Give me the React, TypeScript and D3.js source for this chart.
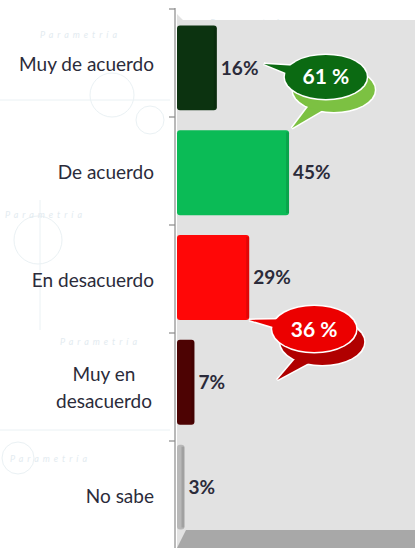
import React from 'react';
import * as d3 from 'd3';

// Survey answers and their shares (%)
const categories = ['Muy de acuerdo', 'De acuerdo', 'En desacuerdo', 'Muy en desacuerdo', 'No sabe'];
const values = [16, 45, 29, 7, 3];
const barColors = ['#0c3310', '#0bbb56', '#ff0707', '#4d0303', '#b8b8b8'];
// label lines for the category axis
const labelLines = [['Muy de acuerdo'], ['De acuerdo'], ['En desacuerdo'], ['Muy en', 'desacuerdo'], ['No sabe']];
// grouped totals shown in the speech bubbles: [first index, last index]
const bubbleGroups = [[0, 1], [2, 3]];
const bubbleColors = [
  { main: '#0b6a12', shade: '#7cc142' },
  { main: '#ec0000', shade: '#b00000' },
];

const W = 415;
const H = 548;
const FONT = 'Lato, "Open Sans", sans-serif';

function Bubble({ cx, cy, rx, ry, tip, tail2, main, shade, label }: any) {
  const tailPath = (t: number[], c: number[], w: number) => {
    const ang = Math.atan2(t[1] - c[1], t[0] - c[0]);
    const px = Math.cos(ang + Math.PI / 2) * w;
    const py = Math.sin(ang + Math.PI / 2) * w;
    return `M${c[0] + px},${c[1] + py}L${t[0]},${t[1]}L${c[0] - px},${c[1] - py}Z`;
  };
  const sx = cx + 8;
  const sy = cy + 13;
  const shadeTail = tailPath(tail2, [sx - 8, sy + 8], 9);
  const mainTail = tailPath(tip, [cx - 14, cy - 2], 8);
  return (
    <g>
      {/* back bubble */}
      <g stroke="#fff" strokeWidth={3}>
        <path d={shadeTail} fill={shade} />
        <ellipse cx={sx} cy={sy} rx={rx} ry={ry} fill={shade} />
      </g>
      <path d={shadeTail} fill={shade} />
      <ellipse cx={sx} cy={sy} rx={rx} ry={ry} fill={shade} />
      {/* front bubble */}
      <g stroke="#fff" strokeWidth={3}>
        <path d={mainTail} fill={main} />
        <ellipse cx={cx} cy={cy} rx={rx} ry={ry} fill={main} />
      </g>
      <path d={mainTail} fill={main} />
      <ellipse cx={cx} cy={cy} rx={rx} ry={ry} fill={main} />
      <text x={cx} y={cy} dy="0.36em" textAnchor="middle" fill="#fff" fontFamily={FONT}
        fontWeight={700} fontSize={21}>{label}</text>
    </g>
  );
}

export default function App() {
  const x = d3.scaleLinear().domain([0, 100]).range([177, 426]);
  // axis wall bands (ticks + category labels) and the bars sit slightly differently (3D look)
  const yAxis = d3.scaleBand<string>().domain(categories).range([9, 549]).padding(0);
  const yBar = d3.scaleBand<string>().domain(categories).range([15, 540]).paddingInner(0.19).paddingOuter(0.1);

  const ticks = [9, ...categories.map(c => (yAxis(c) as number) + yAxis.bandwidth())];

  const watermarks = [
    [210, 26], [5, 218], [60, 345], [200, 410], [10, 462], [40, 38],
  ];

  return (
    <svg width={W} height={H} style={{ position: 'absolute', left: 0, top: 0, background: '#fff' }}>
      {/* faint watermark */}
      <g fill="none" stroke="#eaf1f4" strokeWidth={1}>
        <circle cx={112} cy={95} r={22} />
        <circle cx={38} cy={240} r={24} />
        <circle cx={18} cy={458} r={16} />
        <circle cx={150} cy={120} r={14} />
        <line x1={0} y1={100} x2={170} y2={100} />
        <line x1={40} y1={200} x2={40} y2={330} />
        <line x1={0} y1={430} x2={170} y2={430} />
      </g>
      {watermarks.map(([wx, wy], i) => (
        <text key={i} x={wx} y={wy} fill="#e3ebf0" fontFamily={FONT} fontStyle="italic"
          fontSize={9} letterSpacing={4}>Parametría</text>
      ))}

      {/* plot wall and floor */}
      <polygon points={`177,548 177,14 183,20 ${W},20 ${W},548`} fill="#e2e2e2" />
      <polygon points={`177,548 186,530 ${W},530 ${W},548`} fill="#a8a8a8" />

      {/* category axis */}
      <line x1={175} x2={175} y1={8} y2={H} stroke="#8a8a8a" strokeWidth={1.2} />
      {ticks.map((t, i) => (
        <line key={i} x1={169} x2={175} y1={t} y2={t} stroke="#8a8a8a" strokeWidth={1.2} />
      ))}
      {categories.map((c, i) => {
        const lines = labelLines[i];
        const cy = (yAxis(c) as number) + yAxis.bandwidth() / 2;
        const multi = lines.length > 1;
        const lx = multi ? 104 : 154;
        return (
          <text key={c} x={lx} y={cy + 1 - (lines.length - 1) * 13.5}
            textAnchor={multi ? 'middle' : 'end'} fill="#2b2b3a" fontFamily={FONT} fontSize={19}>
            {lines.map((l, j) => (
              <tspan key={j} x={lx} dy={j === 0 ? '0.35em' : 27}>{l}</tspan>
            ))}
          </text>
        );
      })}

      {/* bars */}
      {categories.map((c, i) => {
        const y0 = yBar(c) as number;
        const w = x(values[i]) - x(0);
        return (
          <g key={c}>
            <rect x={x(0)} y={y0} width={w} height={yBar.bandwidth()} rx={3} fill={barColors[i]} />
            <rect x={x(values[i]) - 3} y={y0 + 2} width={3} height={yBar.bandwidth() - 4}
              fill="#000" opacity={0.12} />
          </g>
        );
      })}

      {/* value labels */}
      {categories.map((c, i) => (
        <text key={c} x={x(values[i]) + 4} y={(yBar(c) as number) + yBar.bandwidth() / 2}
          dy="0.35em" fill="#2b2b3a" fontFamily={FONT} fontWeight={700} fontSize={19}>
          {values[i]}%
        </text>
      ))}

      {/* grouped totals */}
      {bubbleGroups.map(([a, b], i) => {
        const total = d3.sum(values.slice(a, b + 1));
        if (i === 0) {
          const cy0 = (yBar(categories[a]) as number) + yBar.bandwidth() / 2;
          const cx = x(values[a]) + 109;
          return (
            <Bubble key={i} cx={cx} cy={cy0 + 9} rx={41} ry={22} tip={[x(values[a]) + 47, cy0 - 4]}
              tail2={[cx - 34, (yBar(categories[b]) as number) - 2]}
              main={bubbleColors[i].main} shade={bubbleColors[i].shade} label={`${total} %`} />
          );
        }
        const yEnd = (yBar(categories[a]) as number) + yBar.bandwidth();
        const cx = x(values[a]) + 65;
        return (
          <Bubble key={i} cx={cx} cy={yEnd + 9} rx={42} ry={23} tip={[x(values[a]), yEnd]}
            tail2={[cx - 37, yEnd + 60]}
            main={bubbleColors[i].main} shade={bubbleColors[i].shade} label={`${total} %`} />
        );
      })}
    </svg>
  );
}
